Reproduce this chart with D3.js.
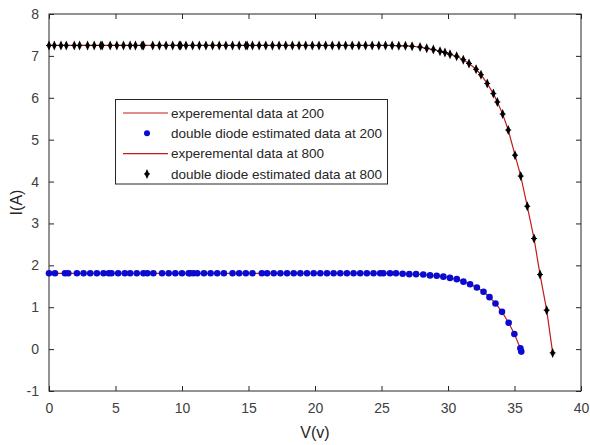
<!DOCTYPE html>
<html>
<head>
<meta charset="utf-8">
<script src="https://cdn.jsdelivr.net/npm/d3@7"></script>
<style>
  body { margin: 0; background: #fff; }
  svg { font-family: "Liberation Sans", Arial, sans-serif; }
</style>
</head>
<body>
<svg id="canvas" width="590" height="445"></svg>
<script>
// irradiance 200 W/m2 : voltage / current
const v200 = [0, 0.45, 1.2, 1.45, 2.1, 2.6, 3.1, 3.6, 4.1, 4.5, 4.7, 5.2, 5.7, 6.1, 6.6, 7.1, 7.4, 7.85, 8.5, 9.0, 9.5, 10.0, 10.5, 10.6, 10.85, 11.15, 11.65, 12.15, 12.65, 13.15, 13.8, 14.3, 14.8, 15.3, 16.0, 16.4, 16.9, 17.4, 17.9, 18.4, 18.9, 19.4, 19.9, 20.4, 20.9, 21.4, 21.9, 22.4, 22.9, 23.4, 23.9, 24.4, 24.9,
  25.14, 25.64, 26.09, 26.59, 27.09, 27.6, 28.14, 28.65, 29.15, 29.65, 30.15, 30.66, 31.16, 31.66, 32.17, 32.67, 33.12, 33.57, 34.06, 34.56, 34.99, 35.44, 35.51]
const i200 = [1.81, 1.81, 1.81, 1.81, 1.81, 1.81, 1.81, 1.81, 1.81, 1.81, 1.81, 1.81, 1.81, 1.81, 1.81, 1.81, 1.81, 1.81, 1.81, 1.81, 1.81, 1.81, 1.81, 1.81, 1.81, 1.81, 1.81, 1.81, 1.81, 1.81, 1.81, 1.81, 1.81, 1.81, 1.81, 1.81, 1.81, 1.81, 1.81, 1.81, 1.81, 1.81, 1.81, 1.81, 1.81, 1.81, 1.81, 1.81, 1.81, 1.81, 1.81, 1.81, 1.81,
  1.81, 1.81, 1.81, 1.80, 1.79, 1.79, 1.78, 1.76, 1.75, 1.73, 1.70, 1.67, 1.61, 1.55, 1.47, 1.37, 1.24, 1.09, 0.89, 0.63, 0.36, 0.02, -0.06]

// irradiance 800 W/m2 : voltage / current
const v800 = [0, 0.4, 0.9, 1.3, 1.9, 2.3, 2.9, 3.4, 3.9, 4.0, 4.6, 5.1, 5.6, 6.1, 6.5, 7.0, 7.1, 7.8, 8.3, 8.8, 9.3, 9.8, 9.9, 10.3, 10.8, 11.3, 11.8, 12.3, 12.8, 13.3, 13.8, 14.3, 14.8, 14.9, 15.3, 15.8, 16.3, 16.8, 17.3, 17.8, 18.3, 18.8, 19.3, 19.8, 20.3, 20.8, 21.3, 21.8, 22.3, 22.8, 23.3, 23.8, 24.3, 24.8, 25.3, 25.8, 26.3, 26.8, 27.3, 27.9, 28.4, 28.9, 29.4,
  29.77, 30.15, 30.65, 31.15, 31.58, 32.11, 32.48, 32.95, 33.41, 33.71, 34.11, 34.53, 35.04, 35.47, 35.96, 36.47, 36.92, 37.42, 37.87]
const i800 = [7.25, 7.25, 7.25, 7.25, 7.25, 7.25, 7.25, 7.25, 7.25, 7.25, 7.25, 7.25, 7.25, 7.25, 7.25, 7.25, 7.25, 7.25, 7.25, 7.25, 7.25, 7.25, 7.25, 7.25, 7.25, 7.25, 7.25, 7.25, 7.25, 7.25, 7.25, 7.25, 7.25, 7.25, 7.25, 7.25, 7.25, 7.25, 7.25, 7.25, 7.25, 7.25, 7.25, 7.25, 7.25, 7.25, 7.25, 7.25, 7.25, 7.25, 7.25, 7.25, 7.25, 7.25, 7.25, 7.25, 7.24, 7.24, 7.23, 7.21, 7.18, 7.15, 7.11,
  7.08, 7.04, 6.99, 6.91, 6.82, 6.68, 6.55, 6.34, 6.10, 5.90, 5.61, 5.23, 4.63, 4.13, 3.41, 2.64, 1.78, 0.93, -0.09]

const xTicks = [0, 5, 10, 15, 20, 25, 30, 35, 40]
const yTicks = [-1, 0, 1, 2, 3, 4, 5, 6, 7, 8]
const legendLabels = ["experemental data at 200", "double diode estimated data at 200", "experemental data at 800", "double diode estimated data at 800"]

const canvas = d3.select("#canvas")
const pLeft = 49, pRight = 581, pTop = 14, pBottom = 391
const axisColor = "#262626"
const lineColor = "#c41a1a"
const blue = "#0a0ad0"

const x = d3.scaleLinear().domain([0, 40]).range([pLeft, pRight])
const y = d3.scaleLinear().domain([-1, 8]).range([pBottom, pTop])

// box + ticks (inward, on all four sides)
canvas.append("rect").attr("x", pLeft).attr("y", pTop).attr("width", pRight - pLeft).attr("height", pBottom - pTop)
  .attr("fill", "none").attr("stroke", axisColor).attr("stroke-width", 1)

const fmt = d => String(d)   // plain hyphen minus, like the original
const styleAxis = (g) => {
  g.select(".domain").remove()
  g.selectAll(".tick line").attr("stroke", axisColor)
  g.selectAll(".tick text").attr("fill", "#404040").attr("font-size", 14)
}
canvas.append("g").attr("transform", `translate(0,${pBottom})`)
  .call(d3.axisBottom(x).tickValues(xTicks).tickFormat(fmt).tickSizeInner(-5).tickPadding(12)).call(styleAxis)
canvas.append("g").attr("transform", `translate(0,${pTop})`)
  .call(d3.axisTop(x).tickValues(xTicks).tickSizeInner(-5).tickFormat("")).call(styleAxis)
canvas.append("g").attr("transform", `translate(${pLeft},0)`)
  .call(d3.axisLeft(y).tickValues(yTicks).tickFormat(fmt).tickSizeInner(-5).tickPadding(10)).call(styleAxis)
canvas.append("g").attr("transform", `translate(${pRight},0)`)
  .call(d3.axisRight(y).tickValues(yTicks).tickSizeInner(-5).tickFormat("")).call(styleAxis)
canvas.selectAll(".tick text").attr("font-family", "Liberation Sans, Arial, sans-serif")

// axis labels
canvas.append("text").attr("x", (pLeft + pRight) / 2).attr("y", 438).attr("text-anchor", "middle")
  .attr("font-size", 16).attr("fill", axisColor).text("V(v)")
canvas.append("text").attr("transform", `translate(22,${(pTop + pBottom) / 2}) rotate(-90)`).attr("text-anchor", "middle")
  .attr("font-size", 16).attr("fill", axisColor).text("I(A)")

const line = d3.line().x(d => x(d[0])).y(d => y(d[1]))
const pts200 = v200.map((v, k) => [v, i200[k]])
const pts800 = v800.map((v, k) => [v, i800[k]])

canvas.append("path").attr("d", line(pts200)).attr("fill", "none").attr("stroke", lineColor).attr("stroke-width", 1.2)
canvas.append("path").attr("d", line(pts800)).attr("fill", "none").attr("stroke", lineColor).attr("stroke-width", 1.2)

const star = (g) => {
  g.append("path").attr("d", "M0,-5 L2.3,0 L0,5 L-2.3,0 Z").attr("fill", "#000")
  g.append("line").attr("x1", -3).attr("x2", 3).attr("y1", 0).attr("y2", 0).attr("stroke", "#000").attr("stroke-width", 1)
}

canvas.append("g").selectAll("circle").data(pts200).enter().append("circle")
  .attr("cx", d => x(d[0])).attr("cy", d => y(d[1])).attr("r", 3.3).attr("fill", blue)

canvas.append("g").selectAll("g").data(pts800).enter().append("g")
  .attr("transform", d => `translate(${x(d[0])},${y(d[1])})`).each(function () { star(d3.select(this)) })

// legend
const lg = canvas.append("g")
lg.append("rect").attr("x", 115.5).attr("y", 99.5).attr("width", 272).attr("height", 84.5)
  .attr("fill", "#fff").attr("stroke", axisColor).attr("stroke-width", 1)
legendLabels.forEach((label, k) => {
  const cy = 113 + k * 20.3
  if (k % 2 === 0) {
    lg.append("line").attr("x1", 123).attr("x2", 168).attr("y1", cy).attr("y2", cy).attr("stroke", lineColor).attr("stroke-width", 1.2)
  } else if (k === 1) {
    lg.append("circle").attr("cx", 147).attr("cy", cy).attr("r", 3).attr("fill", blue)
  } else {
    star(lg.append("g").attr("transform", `translate(147,${cy})`))
  }
  lg.append("text").attr("x", 171).attr("y", cy + 4.8).attr("font-size", 13.5).attr("fill", axisColor).text(label)
})
</script>
</body>
</html>
